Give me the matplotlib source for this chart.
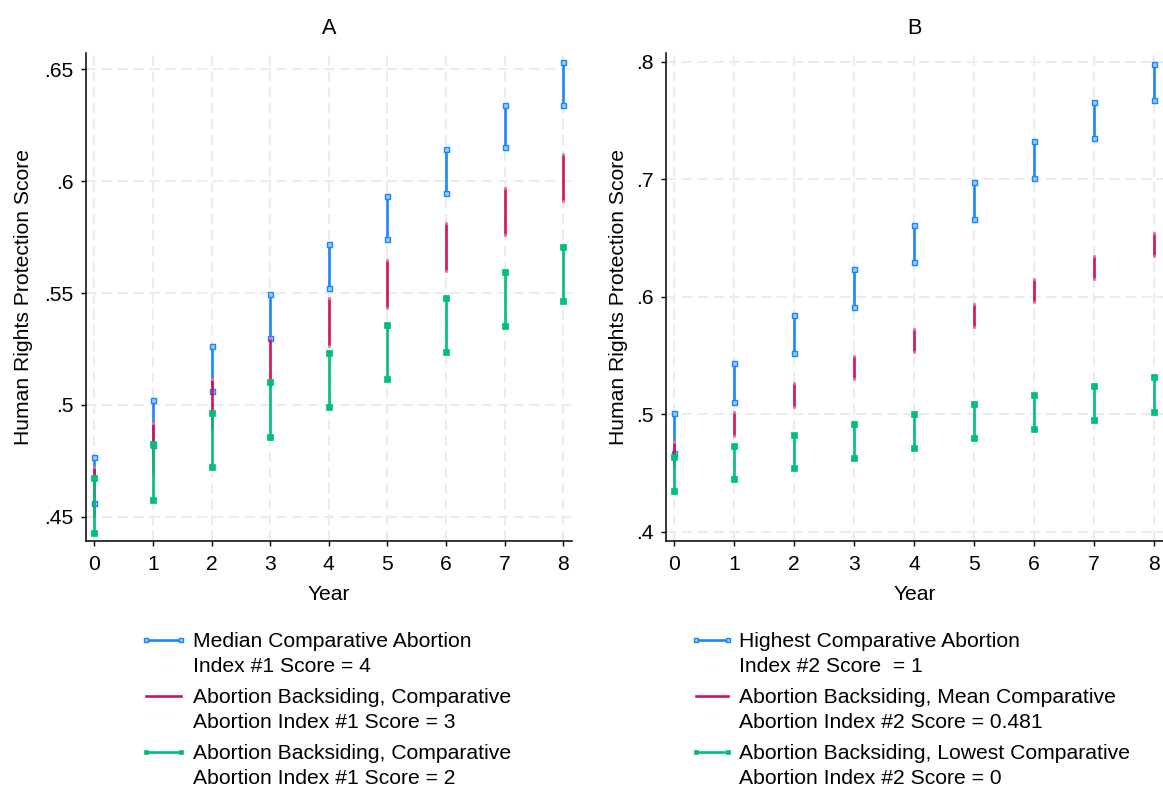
import matplotlib
matplotlib.use("Agg")
import matplotlib.pyplot as plt
from matplotlib.lines import Line2D

plt.rcParams['font.family'] = ['Liberation Sans', 'DejaVu Sans']

W, H = 1163, 788
FS = 15.2

years = [0, 1, 2, 3, 4, 5, 6, 7, 8]

# Panel A
A_blue_hi = [0.4766, 0.5020, 0.5262, 0.5494, 0.5721, 0.5935, 0.6143, 0.6342, 0.6533]
A_blue_lo = [0.4561, 0.4819, 0.5062, 0.5299, 0.5524, 0.5741, 0.5949, 0.6151, 0.6342]
A_red_hi = [0.4722, 0.4920, 0.5114, 0.5299, 0.5478, 0.5650, 0.5814, 0.5972, 0.6123]
A_red_lo = [0.4498, 0.4702, 0.4898, 0.5084, 0.5262, 0.5433, 0.5599, 0.5758, 0.5911]
A_green_hi = [0.4674, 0.4826, 0.4965, 0.5103, 0.5233, 0.5359, 0.5479, 0.5596, 0.5708]
A_green_lo = [0.4428, 0.4575, 0.4723, 0.4857, 0.4992, 0.5117, 0.5238, 0.5354, 0.5466]

# Panel B
B_blue_hi = [0.5013, 0.5439, 0.5845, 0.6237, 0.6615, 0.6978, 0.7324, 0.7659, 0.7980]
B_blue_lo = [0.4673, 0.5107, 0.5519, 0.5916, 0.6297, 0.6663, 0.7015, 0.7353, 0.7676]
B_red_hi = [0.4761, 0.5016, 0.5263, 0.5499, 0.5723, 0.5942, 0.6149, 0.6351, 0.6541]
B_red_lo = [0.4559, 0.4815, 0.5059, 0.5297, 0.5527, 0.5743, 0.5953, 0.6152, 0.6345]
B_green_hi = [0.4633, 0.4727, 0.4820, 0.4914, 0.4999, 0.5084, 0.5161, 0.5238, 0.5314]
B_green_lo = [0.4344, 0.4446, 0.4539, 0.4625, 0.4710, 0.4795, 0.4872, 0.4948, 0.5016]

A_yticks = [0.45, 0.5, 0.55, 0.6, 0.65]
A_yticklabels = [".45", ".5", ".55", ".6", ".65"]
B_yticks = [0.4, 0.5, 0.6, 0.7, 0.8]
B_yticklabels = [".4", ".5", ".6", ".7", ".8"]

A_labels = ["Median Comparative Abortion\nIndex #1 Score = 4",
            "Abortion Backsiding, Comparative\nAbortion Index #1 Score = 3",
            "Abortion Backsiding, Comparative\nAbortion Index #1 Score = 2"]
B_labels = ["Highest Comparative Abortion\nIndex #2 Score  = 1",
            "Abortion Backsiding, Mean Comparative\nAbortion Index #2 Score = 0.481",
            "Abortion Backsiding, Lowest Comparative\nAbortion Index #2 Score = 0"]

BLUE = "#1A85FF"
RED = "#D41159"
GREEN = "#00BF7D"

styles = [
    dict(color=BLUE, marker='s', ms=3.6, mfc="#9cc9ff", mec=BLUE, mew=1.0),
    dict(color=RED, marker='s', ms=1.8, mfc="#e77aa0", mec="#e77aa0", mew=0.5),
    dict(color=GREEN, marker='s', ms=4.4, mfc=GREEN, mec=GREEN, mew=0.5),
]
LW = 1.9

fig = plt.figure(figsize=(W / 100, H / 100), dpi=100)


def fx(x):
    return x / W


def fy(y):
    return 1 - y / H


def make_axes(left, right, top, bottom, xlim, ylim, yticks, yticklabels, title,
              series, ylabel_x):
    ax = fig.add_axes([fx(left), fy(bottom), fx(right) - fx(left), fy(top) - fy(bottom)])
    ax.set_xlim(*xlim)
    ax.set_ylim(*ylim)
    ax.set_xticks(years)
    ax.set_xticklabels([str(y) for y in years], fontsize=FS)
    ax.set_yticks(yticks)
    ax.set_yticklabels(yticklabels, fontsize=FS)
    ax.tick_params(axis='both', direction='out', length=3.6, width=1, color='black', pad=5)
    ax.tick_params(axis='x', pad=7)
    for s in ['top', 'right']:
        ax.spines[s].set_visible(False)
    for s in ['left', 'bottom']:
        ax.spines[s].set_linewidth(1.1)
    ax.grid(True, color='#ececec', lw=1.5, linestyle=(0, (5.0, 2.6)))
    ax.set_axisbelow(True)
    for (lo, hi), st in zip(series, styles):
        for x, a, b in zip(years, lo, hi):
            ax.plot([x, x], [a, b], color=st['color'], lw=LW, solid_capstyle='butt', zorder=3)
        ax.plot(years, lo, linestyle='none', marker=st['marker'], ms=st['ms'],
                mfc=st['mfc'], mec=st['mec'], mew=st['mew'], zorder=3, clip_on=False)
        ax.plot(years, hi, linestyle='none', marker=st['marker'], ms=st['ms'],
                mfc=st['mfc'], mec=st['mec'], mew=st['mew'], zorder=3, clip_on=False)
    ax.set_ylabel("Human Rights Protection Score", fontsize=FS)
    ax.yaxis.set_label_coords(ylabel_x, 0.5)
    ax.set_xlabel("Year", fontsize=FS, va='center')
    ax.xaxis.set_label_coords(0.5, -0.11)
    ax.text(0.5, 1.05, title, transform=ax.transAxes, ha='center', va='center', fontsize=FS + 0.4)
    return ax


axA = make_axes(85.7, 571.7, 53.3, 540.7, (-0.147, 8.143), (0.4393, 0.6572),
                A_yticks, A_yticklabels, "A",
                [(A_blue_lo, A_blue_hi), (A_red_lo, A_red_hi), (A_green_lo, A_green_hi)],
                -0.108)
axB = make_axes(665.7, 1163, 53.3, 540.7, (-0.138, 8.15), (0.3923, 0.8074),
                B_yticks, B_yticklabels, "B",
                [(B_blue_lo, B_blue_hi), (B_red_lo, B_red_hi), (B_green_lo, B_green_hi)],
                -0.076)


def draw_legend(x0, x1, xt, labels):
    for i, (lab, st) in enumerate(zip(labels, styles)):
        yl = 640 + i * 56
        show_markers = i != 1
        line = Line2D([fx(x0), fx(x1)], [fy(yl), fy(yl)], transform=fig.transFigure,
                      color=st['color'], lw=LW,
                      marker=st['marker'] if show_markers else None,
                      ms=st['ms'] * 0.8, mfc=st['mfc'], mec=st['mec'], mew=st['mew'])
        fig.add_artist(line)
        # baseline of the last (second) line of the label
        fig.text(fx(xt), fy(671.7 + i * 56), lab, fontsize=FS, ha='left', va='baseline',
                 linespacing=1.36)


draw_legend(146, 181, 192.7, A_labels)
draw_legend(696, 728, 739, B_labels)

fig.savefig("out.png", dpi=100, facecolor='white')
